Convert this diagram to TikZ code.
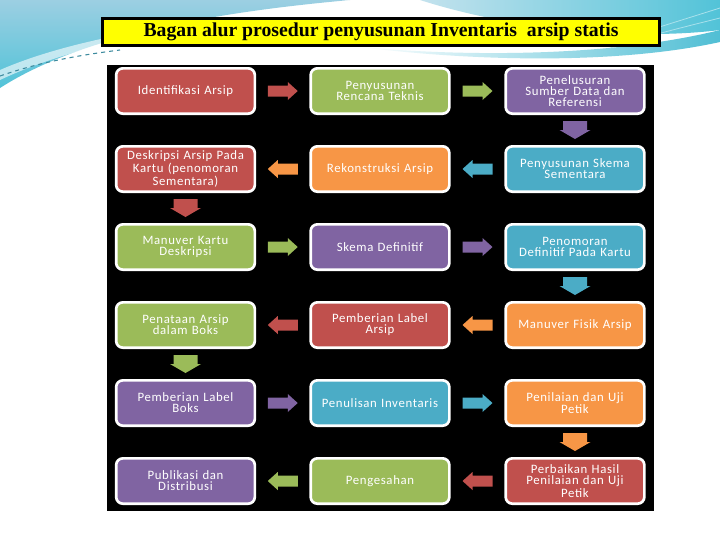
\documentclass[tikz,border=0pt]{standalone}
\usepackage{fontspec}
\setmainfont{Liberation Serif}
\newfontfamily\boxfont[LetterSpace=5]{Carlito}
\usetikzlibrary{calc}
\definecolor{cred}{HTML}{C0504D}
\definecolor{cgreen}{HTML}{9BBB59}
\definecolor{cpurple}{HTML}{8064A2}
\definecolor{cteal}{HTML}{4BACC6}
\definecolor{corange}{HTML}{F79646}
\definecolor{bgblue}{HTML}{9CCFE2}
\definecolor{bgcyan}{HTML}{52C3D8}
\definecolor{titleyellow}{HTML}{FFFF00}
\tikzset{
  flowbox/.style={draw=white, line width=2pt, rounded corners=5pt, fill=#1,
    minimum width=104pt, minimum height=34pt, text width=102pt, align=center,
    text=white, inner sep=1pt, font=\boxfont\fontsize{9.6}{8.3}\selectfont},
  rarrow/.pic={\fill[#1] (-15,-5.5) -- (5,-5.5) -- (5,-9) -- (15,0) -- (5,9) -- (5,5.5) -- (-15,5.5) -- cycle;},
  larrow/.pic={\fill[#1] (15,-5.5) -- (-5,-5.5) -- (-5,-9) -- (-15,0) -- (-5,9) -- (-5,5.5) -- (15,5.5) -- cycle;},
  darrow/.pic={\fill[#1] (-12,-9) -- (12,-9) -- (12,0) -- (15.5,0) -- (0,9) -- (-15.5,0) -- (-12,0) -- cycle;},
}
\begin{document}
\begin{tikzpicture}[x=0.75pt, y=-0.75pt]
\useasboundingbox (0,0) rectangle (720,540);
\fill[white] (0,0) rectangle (720,540);
% background swooshes
\shade[top color=bgblue, bottom color=bgcyan] (0,0) -- (350,0) .. controls (240,10) and (90,30) .. (0,88) -- cycle;
\fill[white, opacity=0.6] (0,70) .. controls (80,35) and (200,20) .. (330,5) -- (350,0) .. controls (200,22) and (80,42) .. (0,80) -- cycle;
\draw[cteal!80!black, dashed, line width=0.8pt] (0,76) .. controls (40,62) and (80,55) .. (120,50);
\shade[left color=bgblue!60, right color=bgcyan] (420,0) -- (720,0) -- (720,30) .. controls (640,40) and (520,32) .. (420,0) -- cycle;
\shade[left color=white, right color=bgcyan!80!cteal] (360,47) .. controls (480,58) and (620,55) .. (720,30) -- (720,42) .. controls (620,64) and (480,62) .. (360,47) -- cycle;
\draw[bgcyan!50, line width=0.6pt] (600,45) .. controls (650,30) .. (720,8);
\draw[bgcyan!50, line width=0.6pt] (610,48) .. controls (660,33) .. (720,18);
% title
\node[draw=black, line width=2pt, fill=titleyellow, minimum width=418pt, minimum height=20.5pt, inner sep=0pt,
  font=\bfseries\fontsize{14.8}{16}\selectfont] (title) at (381,32) {Bagan alur prosedur penyusunan Inventaris\ \ arsip statis};
% panel
\fill[black] (107,65) rectangle (654,511);
% boxes
\node[flowbox=cred]    (a1) at (185.5,91) {Identifikasi Arsip};
\node[flowbox=cgreen]  (a2) at (380,91)   {Penyusunan\\Rencana Teknis};
\node[flowbox=cpurple] (a3) at (575,91)   {Penelusuran\\Sumber Data dan\\Referensi};
\node[flowbox=cred]    (b1) at (185.5,169) {Deskripsi Arsip Pada\\Kartu (penomoran\\Sementara)};
\node[flowbox=corange] (b2) at (380,169)   {Rekonstruksi Arsip};
\node[flowbox=cteal]   (b3) at (575,169)   {Penyusunan Skema\\Sementara};
\node[flowbox=cgreen]  (c1) at (185.5,247) {Manuver Kartu\\Deskripsi};
\node[flowbox=cpurple] (c2) at (380,247)   {Skema Definitif};
\node[flowbox=cteal]   (c3) at (575,247)   {Penomoran\\Definitif Pada Kartu};
\node[flowbox=cgreen]  (d1) at (185.5,325) {Penataan Arsip\\dalam Boks};
\node[flowbox=cred]    (d2) at (380,325)   {Pemberian Label\\Arsip};
\node[flowbox=corange] (d3) at (575,325)   {Manuver Fisik Arsip};
\node[flowbox=cpurple] (e1) at (185.5,403) {Pemberian Label\\Boks};
\node[flowbox=cteal]   (e2) at (380,403)   {Penulisan Inventaris};
\node[flowbox=corange] (e3) at (575,403)   {Penilaian dan Uji\\Petik};
\node[flowbox=cpurple] (f1) at (185.5,481) {Publikasi dan\\Distribusi};
\node[flowbox=cgreen]  (f2) at (380,481)   {Pengesahan};
\node[flowbox=cred]    (f3) at (575,481)   {Perbaikan Hasil\\Penilaian dan Uji\\Petik};
% arrows
\pic at ($(a1.east)!0.5!(a2.west)$) {rarrow=cred};
\pic at ($(a2.east)!0.5!(a3.west)$) {rarrow=cgreen};
\pic at ($(a3.south)!0.5!(b3.north)$) {darrow=cpurple};
\pic at ($(b3.west)!0.5!(b2.east)$) {larrow=cteal};
\pic at ($(b2.west)!0.5!(b1.east)$) {larrow=corange};
\pic at ($(b1.south)!0.5!(c1.north)$) {darrow=cred};
\pic at ($(c1.east)!0.5!(c2.west)$) {rarrow=cgreen};
\pic at ($(c2.east)!0.5!(c3.west)$) {rarrow=cpurple};
\pic at ($(c3.south)!0.5!(d3.north)$) {darrow=cteal};
\pic at ($(d3.west)!0.5!(d2.east)$) {larrow=corange};
\pic at ($(d2.west)!0.5!(d1.east)$) {larrow=cred};
\pic at ($(d1.south)!0.5!(e1.north)$) {darrow=cgreen};
\pic at ($(e1.east)!0.5!(e2.west)$) {rarrow=cpurple};
\pic at ($(e2.east)!0.5!(e3.west)$) {rarrow=cteal};
\pic at ($(e3.south)!0.5!(f3.north)$) {darrow=corange};
\pic at ($(f3.west)!0.5!(f2.east)$) {larrow=cred};
\pic at ($(f2.west)!0.5!(f1.east)$) {larrow=cgreen};
\end{tikzpicture}
\end{document}
